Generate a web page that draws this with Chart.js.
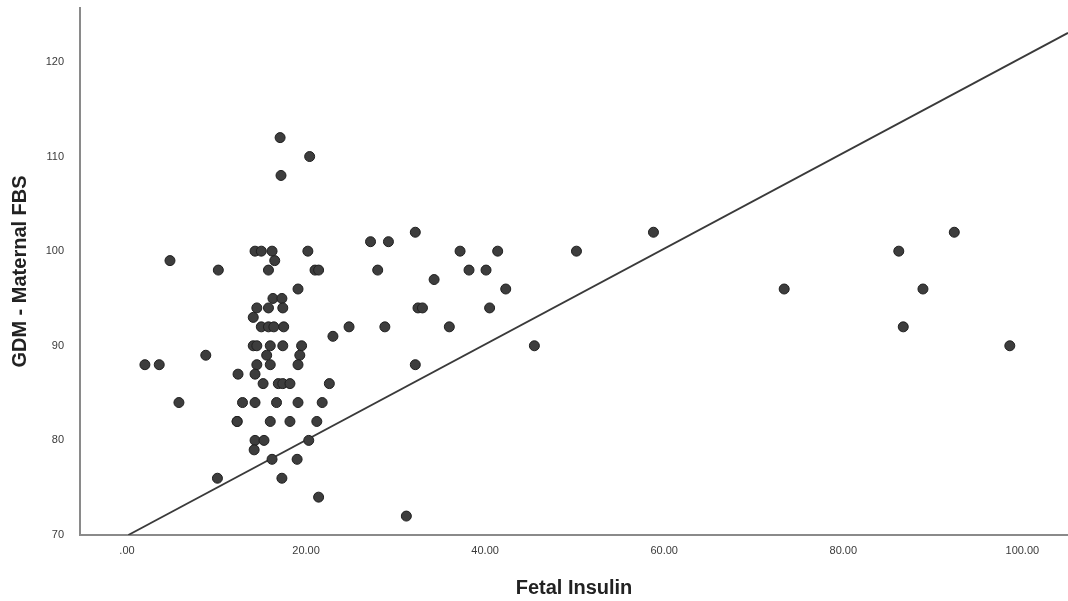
<!DOCTYPE html>
<html>
<head>
<meta charset="utf-8">
<script src="https://cdn.jsdelivr.net/npm/chart.js@4/dist/chart.umd.min.js"></script>
<style>
  html, body { margin: 0; padding: 0; background: #ffffff; }
  #wrap { width: 1068px; height: 601px; }
</style>
</head>
<body>
<div id="wrap"><canvas id="c" width="1068" height="601"></canvas></div>
<script>
// Fetal Insulin (x) and GDM - Maternal FBS (y)
const fetalInsulin = [
  2.0, 3.6, 4.8, 5.8, 8.8, 10.2, 10.1, 12.4, 12.3, 12.9,
  14.3, 15.0, 16.2, 20.2, 16.5, 15.8, 21.0, 21.4, 19.1, 16.3,
  17.3, 14.5, 15.8, 17.4, 14.1, 15.0, 15.8, 16.4, 17.5, 23.0,
  14.1, 14.5, 16.0, 17.4, 19.5, 15.6, 19.3, 14.5, 16.0, 19.1,
  14.3, 15.2, 16.9, 17.4, 18.2, 22.6, 14.3, 16.7, 19.1, 21.8,
  16.0, 18.2, 21.2, 14.3, 15.3, 20.3, 14.2, 16.2, 19.0, 17.3,
  21.4, 17.1, 20.4, 17.2, 27.2, 29.2, 32.2, 37.2, 41.4, 50.2,
  28.0, 38.2, 40.1, 34.3, 42.3, 32.5, 33.0, 40.5, 24.8, 28.8,
  36.0, 45.5, 32.2, 31.2, 58.8, 73.4, 86.2, 92.4, 88.9, 86.7,
  98.6, 12.3
];
const maternalFBS = [
  88, 88, 99, 84, 89, 98, 76, 87, 82, 84,
  100, 100, 100, 100, 99, 98, 98, 98, 96, 95,
  95, 94, 94, 94, 93, 92, 92, 92, 92, 91,
  90, 90, 90, 90, 90, 89, 89, 88, 88, 88,
  87, 86, 86, 86, 86, 86, 84, 84, 84, 84,
  82, 82, 82, 80, 80, 80, 79, 78, 78, 76,
  74, 112, 110, 108, 101, 101, 102, 100, 100, 100,
  98, 98, 98, 97, 96, 94, 94, 94, 92, 92,
  92, 90, 88, 72, 102, 96, 100, 102, 96, 92,
  90, 82
];
// Fit line endpoints
const fitLineX = [0.15, 105.1];
const fitLineY = [70, 123.07];

// Axis ticks
const xTickValues = [0, 20, 40, 60, 80, 100];
const yTickValues = [70, 80, 90, 100, 110, 120];
const xTitle = 'Fetal Insulin';
const yTitle = 'GDM - Maternal FBS';

const points = fetalInsulin.map((x, i) => ({ x: x, y: maternalFBS[i] }));
const linePts = fitLineX.map((x, i) => ({ x: x, y: fitLineY[i] }));

const tickFont = { family: '"Liberation Sans", Arial, sans-serif', size: 11 };
const titleFont = { family: '"Liberation Sans", Arial, sans-serif', size: 20, weight: 'bold' };

function zeroPad(s) { s.paddingTop = 0; s.paddingBottom = 0; s.paddingLeft = 0; s.paddingRight = 0; }

new Chart(document.getElementById('c'), {
  type: 'scatter',
  data: {
    datasets: [
      {
        type: 'line',
        data: linePts,
        borderColor: '#3a3a3a',
        borderWidth: 1.8,
        pointRadius: 0,
        fill: false,
        order: 1
      },
      {
        data: points,
        backgroundColor: '#3d3d3d',
        borderColor: '#1f1f1f',
        borderWidth: 1,
        pointRadius: 5,
        order: 0
      }
    ]
  },
  options: {
    responsive: false,
    animation: false,
    devicePixelRatio: 1,
    layout: { autoPadding: false, padding: { top: 8, right: 0, left: 0, bottom: 0 } },
    plugins: { legend: { display: false }, tooltip: { enabled: false } },
    scales: {
      x: {
        type: 'linear',
        min: -5.25,
        max: 105.1,
        afterBuildTicks: s => { s.ticks = xTickValues.map(v => ({ value: v })); },
        afterFit: s => { s.height = 66; zeroPad(s); },
        ticks: {
          autoSkip: false, maxRotation: 0, padding: 9,
          color: '#3a3a3a', font: tickFont,
          callback: v => v === 0 ? '.00' : Number(v).toFixed(2)
        },
        grid: { display: false, drawTicks: false },
        border: { display: true, color: '#8a8a8a', width: 2 },
        title: { display: true, text: xTitle, color: '#222', font: titleFont, padding: { top: 0, bottom: 1 } }
      },
      y: {
        type: 'linear',
        min: 70,
        max: 125.7,
        afterBuildTicks: s => { s.ticks = yTickValues.map(v => ({ value: v })); },
        afterFit: s => { s.width = 80; zeroPad(s); },
        ticks: {
          autoSkip: false, padding: 16,
          color: '#3a3a3a', font: tickFont,
          callback: v => String(v)
        },
        grid: { display: false, drawTicks: false },
        border: { display: true, color: '#8a8a8a', width: 2 },
        title: { display: true, text: yTitle, color: '#222', font: titleFont, padding: { top: 8, bottom: 0 } }
      }
    }
  }
});
</script>
</body>
</html>
